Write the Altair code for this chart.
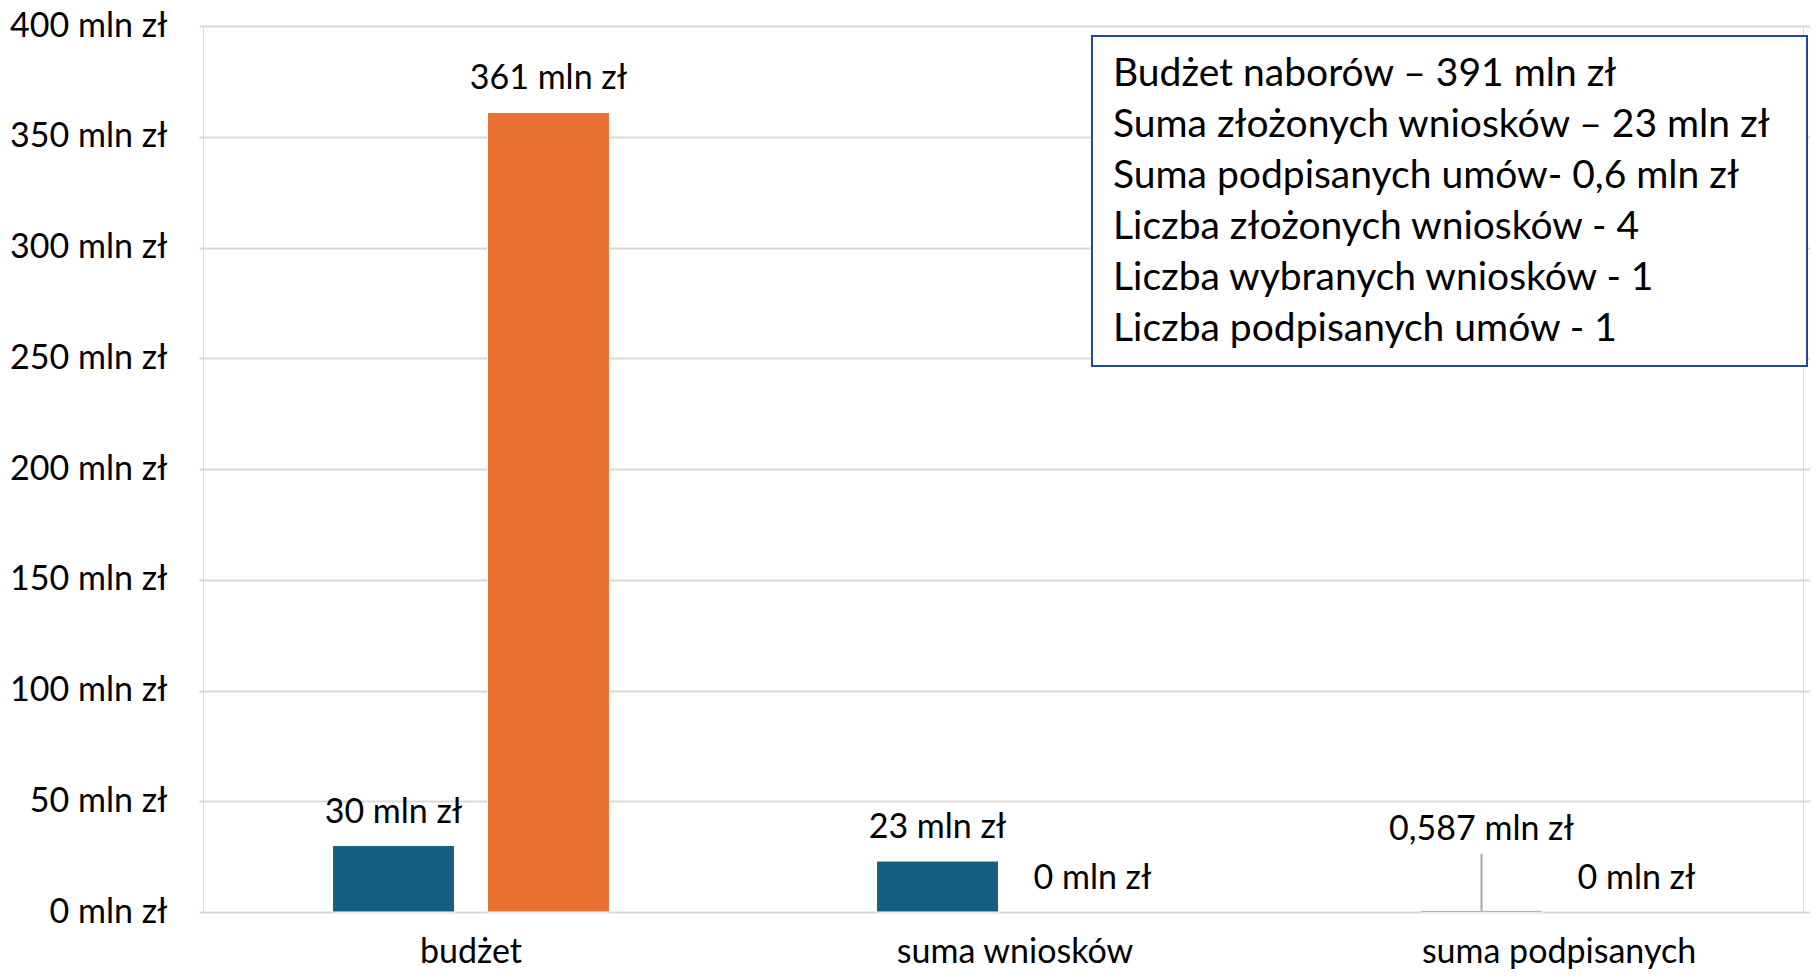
import altair as alt
import pandas as pd

# ---- data ----
categories = ["budżet", "suma wniosków", "suma podpisanych umów"]
series_names = ["seria 1", "seria 2"]
values_s1 = [30, 23, 0.587]
values_s2 = [361, 0, 0]
labels_s1 = ["30 mln zł", "23 mln zł", "0,587 mln zł"]
labels_s2 = ["361 mln zł", "0 mln zł", "0 mln zł"]
y_ticks = [0, 50, 100, 150, 200, 250, 300, 350, 400]
info_lines = [
    "Budżet naborów – 391 mln zł",
    "Suma złożonych wniosków – 23 mln zł",
    "Suma podpisanych umów- 0,6 mln zł",
    "Liczba złożonych wniosków - 4",
    "Liczba wybranych wniosków - 1",
    "Liczba podpisanych umów - 1",
]
series_colors = ["#156082", "#E97132"]

rows = []
for i, c in enumerate(categories):
    rows.append(dict(cat=c, series=series_names[0], value=values_s1[i], label=labels_s1[i]))
    rows.append(dict(cat=c, series=series_names[1], value=values_s2[i], label=labels_s2[i]))
df = pd.DataFrame(rows)

FONT = "Lato"
FS = 34

x_enc = alt.X(
    "cat:N",
    sort=categories,
    scale=alt.Scale(range=[-4, 1628], paddingInner=0.491, paddingOuter=0.2455),
    axis=alt.Axis(
        title=None, domain=False, ticks=False, grid=False, labelAngle=0, labelLimit=0,
        labelFontSize=FS, labelFont=FONT, labelColor="black", labelPadding=23,
        labelLineHeight=42,
        labelExpr="datum.label == 'suma podpisanych umów' ? ['suma podpisanych', 'umów'] : datum.label",
    ),
)
xo_enc = alt.XOffset("series:N", sort=series_names,
                     scale=alt.Scale(paddingInner=0.213, paddingOuter=0))
y_enc = alt.Y(
    "value:Q",
    scale=alt.Scale(domain=[0, 400], nice=False),
    axis=alt.Axis(
        values=y_ticks, title=None, domain=False, ticks=False,
        labelExpr="datum.value + ' mln zł'",
        labelFontSize=FS, labelFont=FONT, labelColor="black", labelPadding=36,
        gridColor="#d9d9d9", gridWidth=2,
    ),
)
color_enc = alt.Color("series:N", scale=alt.Scale(domain=series_names, range=series_colors), legend=None)

base = alt.Chart(df)

bars = base.mark_bar(strokeWidth=1).encode(
    x=x_enc, xOffset=xo_enc, y=y_enc, color=color_enc,
    stroke=alt.condition("datum.value > 0", alt.value("white"), alt.value("transparent")),
)

small = "datum.value > 0 && datum.value < 1"

labels = base.transform_filter("!(" + small + ")").mark_text(
    dy=-33, baseline="middle", align="center", fontSize=FS, font=FONT, color="black"
).encode(x=x_enc, xOffset=xo_enc, y=y_enc, text="label:N")

callout_labels = base.transform_filter(small).mark_text(
    dy=-81, baseline="middle", align="center", fontSize=FS, font=FONT, color="black"
).encode(x=x_enc, xOffset=xo_enc, y=y_enc, text="label:N")

leader = base.transform_filter(small).mark_rule(
    color="#a6a6a6", strokeWidth=2, y2Offset=-57
).encode(x=x_enc, xOffset=xo_enc, y=y_enc, y2=alt.Y2("value:Q"))

info_df = pd.DataFrame({"txt": ["\n".join(info_lines)]})
box = alt.Chart(info_df).mark_rect(fill="white", stroke="#2346a0", strokeWidth=2).encode(
    x=alt.value(889), x2=alt.value(1604), y=alt.value(10), y2=alt.value(340)
)
info_text = alt.Chart(info_df).mark_text(
    align="left", baseline="alphabetic", fontSize=39, font=FONT, color="black",
    lineBreak="\n", lineHeight=51,
).encode(x=alt.value(910), y=alt.value(60), text="txt:N")

chart = (
    alt.layer(bars, leader, labels, callout_labels, box, info_text)
    .properties(
        width=1600, height=886,
        autosize=alt.AutoSizeParams(type="none"),
        padding={"left": 195, "top": 18, "right": 7, "bottom": 58},
        background="white",
    )
    .configure_view(stroke="transparent", strokeWidth=0)
    .configure(font=FONT)
)

chart.save("out.html", embed_options={"renderer": "svg", "actions": False})
